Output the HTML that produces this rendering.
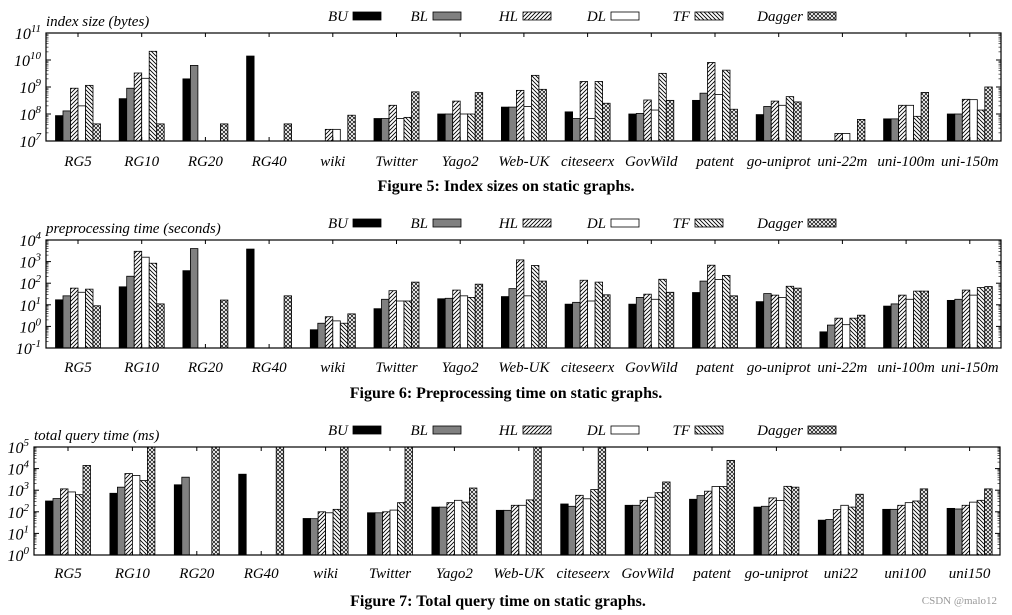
<!DOCTYPE html>
<html><head><meta charset="utf-8"><style>
html,body{margin:0;padding:0;background:#fff;}
svg{display:block;}
text{font-family:"Liberation Serif",serif;}
</style></head><body>
<svg id="chart" width="1012" height="615" viewBox="0 0 1012 615" xmlns="http://www.w3.org/2000/svg">
<defs>
<pattern id="pHL" patternUnits="userSpaceOnUse" width="4" height="4"><rect width="4" height="4" fill="#fff"/><path d="M-1,1 l2,-2 M0,4 l4,-4 M3,5 l2,-2" stroke="#000" stroke-width="0.9"/></pattern>
<pattern id="pTF" patternUnits="userSpaceOnUse" width="4" height="4"><rect width="4" height="4" fill="#fff"/><path d="M-1,3 l2,2 M0,0 l4,4 M3,-1 l2,2" stroke="#000" stroke-width="0.9"/></pattern>
<pattern id="pDG" patternUnits="userSpaceOnUse" width="4" height="4"><rect width="4" height="4" fill="#fff"/><path d="M0,0 l4,4 M4,0 l-4,4" stroke="#000" stroke-width="0.7"/></pattern>
</defs>
</svg>
<script>
// ---------- data ----------
const series = ["BU","BL","HL","DL","TF","Dagger"];
const cats1 = ["RG5","RG10","RG20","RG40","wiki","Twitter","Yago2","Web-UK","citeseerx","GovWild","patent","go-uniprot","uni-22m","uni-100m","uni-150m"];
const cats3 = ["RG5","RG10","RG20","RG40","wiki","Twitter","Yago2","Web-UK","citeseerx","GovWild","patent","go-uniprot","uni22","uni100","uni150"];
const yTicks1 = [7,8,9,10,11];
const yTicks2 = [-1,0,1,2,3,4];
const yTicks3 = [0,1,2,3,4,5];
// Figure 5: index size (bytes)
const size_BU = [8.7e7,3.7e8,2e9,1.4e10,null,6.8e7,1e8,1.8e8,1.2e8,1e8,3.2e8,9.5e7,null,6.6e7,1e8];
const size_BL = [1.3e8,9e8,6.3e9,null,null,6.8e7,1e8,1.8e8,6.8e7,1.05e8,5.9e8,1.9e8,null,6.6e7,1e8];
const size_HL = [9e8,3.3e9,null,null,2.7e7,2.1e8,3e8,7.5e8,1.6e9,3.3e8,8.1e9,3e8,1.9e7,2.1e8,3.5e8];
const size_DL = [2e8,2.1e9,null,null,2.7e7,6.8e7,1e8,1.9e8,6.8e7,1.4e8,5.3e8,2.1e8,1.9e7,2.1e8,3.4e8];
const size_TF = [1.15e9,2.1e10,null,null,null,7.5e7,1e8,2.7e9,1.6e9,3.2e9,4.2e9,4.4e8,null,8.2e7,1.4e8];
const size_DG = [4.3e7,4.3e7,4.3e7,4.3e7,9e7,6.6e8,6.2e8,8.2e8,2.5e8,3.2e8,1.5e8,2.8e8,6.3e7,6.3e8,1e9];
// Figure 6: preprocessing time (s)
const pre_BU = [17,68,380,3800,0.7,6.6,19,24,10.7,10.7,37,14,0.56,8.7,16];
const pre_BL = [26,210,4000,null,1.4,18,20,56,13,22,125,33,1.15,11,18];
const pre_HL = [59,3000,null,null,2.8,45,48,1200,137,31,680,28,2.4,28,48];
const pre_DL = [38,1600,null,null,1.8,15,26,26,15,18,148,22,1.2,18,28];
const pre_TF = [53,840,null,null,1.4,15,22,660,112,152,230,72,2.4,43,63];
const pre_DG = [9,11,16.6,26,3.8,112,90,125,29,38,26,59,3.3,43,70];
// Figure 7: total query time (ms)
const q_BU = [316,720,1780,5500,49,90,165,117,230,200,380,165,41,130,144];
const q_BL = [410,1380,4000,null,48,90,165,117,180,200,560,180,44,130,135];
const q_HL = [1150,5900,null,null,100,100,265,200,580,340,900,440,126,200,200];
const q_DL = [830,4800,null,null,90,120,340,200,400,470,1480,330,200,265,280];
const q_TF = [620,2800,null,null,130,265,280,355,1070,770,1480,1510,165,316,340];
const q_DG = [14000,1e5,1e5,1e5,1e5,1e5,1260,1e5,1e5,2400,24000,1380,650,1150,1150];

// ---------- drawing ----------
const svg = document.getElementById('chart');
const NS = "http://www.w3.org/2000/svg";
function el(tag, attrs, parent){ const e=document.createElementNS(NS,tag); for(const k in attrs) e.setAttribute(k,attrs[k]); (parent||svg).appendChild(e); return e; }
const fills = ["#000","#808080","url(#pHL)","#fff","url(#pTF)","url(#pDG)"];

function panel(p){
  const g = el('g',{});
  
  
  const lo = p.ticks[0], hi = p.ticks[p.ticks.length-1];
  const yScale = v => p.bottom - (Math.log10(v)-lo)/(hi-lo)*(p.bottom-p.top);
  const xCenter = i => p.c0 + p.step*i;
  const bw = 7.5;
  p.data.forEach((arr, j) => {
    arr.forEach((v, i) => {
      if (v === null || v === undefined) return;
      const x = xCenter(i) + (j-3)*bw;
      const y = Math.max(p.top, yScale(v));
      const r = el('rect',{x:x,y:y,width:bw,height:p.bottom-y,fill:fills[j],stroke:"#000","stroke-width":0.8},g);
      
      
    });
  });
  const fr = el('rect',{x:p.left,y:p.top,width:p.right-p.left,height:p.bottom-p.top,fill:"none",stroke:"#000","stroke-width":1.2},g);
  
  
  p.ticks.forEach((t, k) => {
    const y = yScale(Math.pow(10,t));
    el('line',{x1:p.left,x2:p.left+5,y1:y,y2:y,stroke:"#000"},g);
    el('line',{x1:p.right,x2:p.right-5,y1:y,y2:y,stroke:"#000"},g);
    if (k < p.ticks.length-1) for (let m=2;m<10;m++){
      const ym = yScale(m*Math.pow(10,t));
      el('line',{x1:p.left,x2:p.left+2.5,y1:ym,y2:ym,stroke:"#000","stroke-width":0.6},g);
      el('line',{x1:p.right,x2:p.right-2.5,y1:ym,y2:ym,stroke:"#000","stroke-width":0.6},g);
    }
    const tx = el('text',{x:p.left-5,y:y+6,"font-size":16,"font-style":"italic","text-anchor":"end"},g);
    
    
    const base = el('tspan',{},tx);
    base.textContent = "10";
    const sup = el('tspan',{"font-size":11,dy:-7},tx);
    sup.textContent = String(t);
  });
  p.cats.forEach((c, i) => {
    const x = xCenter(i);
    el('line',{x1:x,x2:x,y1:p.top,y2:p.top+4,stroke:"#000"},g);
    el('line',{x1:x,x2:x,y1:p.bottom,y2:p.bottom-4,stroke:"#000"},g);
    const lb = el('text',{x:x,y:p.labelY,"font-size":15,"font-style":"italic","text-anchor":"middle"},g);
    
    
    lb.textContent = c;
  });
  const yt = el('text',{x:p.left,y:p.top-7,"font-size":15,"font-style":"italic"},g);
  
  
  yt.textContent = p.ytitle;
  const lx = [353,433,523,611,695,808];
  series.forEach((s, j) => {
    const lt = el('text',{x:lx[j]-5,y:p.legY+5,"font-size":15,"font-style":"italic","text-anchor":"end"},g);
    
    
    lt.textContent = s;
    const lr = el('rect',{x:lx[j],y:p.legY-4,width:28,height:8,fill:fills[j],stroke:"#000","stroke-width":0.8},g);
    
    
  });
  const cp = el('text',{x:p.capX,y:p.capY,"font-size":16,"font-weight":"bold","text-anchor":"middle"},g);
  
  
  cp.textContent = p.caption;
}

panel({name:"index-size-chart",cats:cats1,ticks:yTicks1,data:[size_BU,size_BL,size_HL,size_DL,size_TF,size_DG],
  left:46,right:1001,top:33,bottom:141,c0:78,step:63.7,labelY:166,legY:16,ytitle:"index size (bytes)",
  caption:"Figure 5: Index sizes on static graphs.",capX:506,capY:191});
panel({name:"preprocessing-time-chart",cats:cats1,ticks:yTicks2,data:[pre_BU,pre_BL,pre_HL,pre_DL,pre_TF,pre_DG],
  left:46,right:1001,top:240,bottom:348,c0:78,step:63.7,labelY:372,legY:223,ytitle:"preprocessing time (seconds)",
  caption:"Figure 6: Preprocessing time on static graphs.",capX:506,capY:398});
panel({name:"query-time-chart",cats:cats3,ticks:yTicks3,data:[q_BU,q_BL,q_HL,q_DL,q_TF,q_DG],
  left:34,right:1000,top:447,bottom:555,c0:68,step:64.4,labelY:578,legY:430,ytitle:"total query time (ms)",
  caption:"Figure 7: Total query time on static graphs.",capX:498,capY:606});

const wm = el('text',{x:997,y:604,"font-size":11,fill:"#999","text-anchor":"end","font-family":"Liberation Sans, sans-serif"});


wm.textContent = "CSDN @malo12";
</script>
</body></html>
